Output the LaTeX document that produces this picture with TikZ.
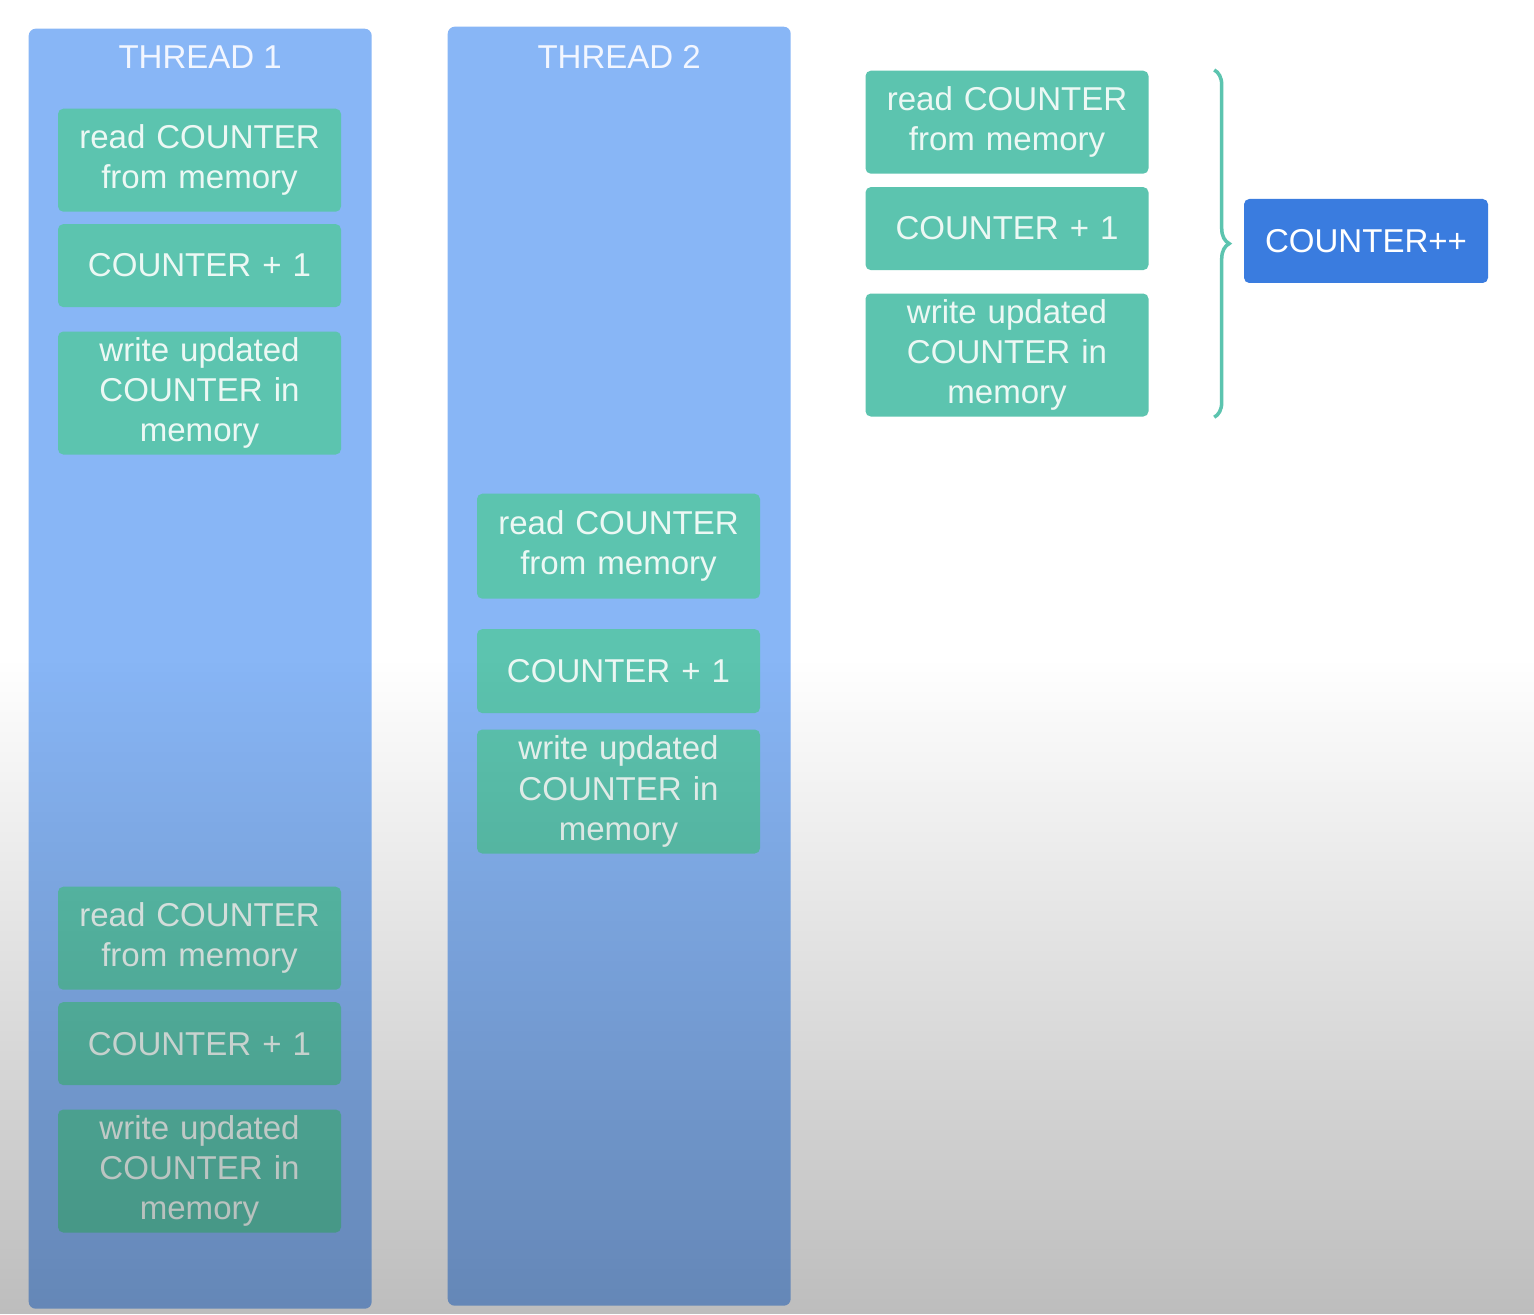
\documentclass[tikz,border=0pt]{standalone}
\usepackage{fontspec}
\setmainfont{Liberation Sans}
\usetikzlibrary{positioning,decorations.pathreplacing,fadings}

\definecolor{threadblue}{RGB}{136,182,246}
\definecolor{opgreen}{RGB}{92,196,175}
\definecolor{counterblue}{RGB}{58,124,223}
\definecolor{optext}{RGB}{236,248,244}
\definecolor{titletext}{RGB}{242,246,255}

\tikzfading[name=dimdown, top color=transparent!100, bottom color=transparent!74, middle color=transparent!100]

\begin{document}
\begin{tikzpicture}[
    node distance=0.11cm,
    thread/.style={rectangle, fill=threadblue, rounded corners=2pt, minimum width=3.43cm, minimum height=12.8cm, inner sep=0pt},
    threadtitle/.style={text=titletext, font=\fontsize{9.4}{11.4}\selectfont, inner sep=0pt},
    op/.style={rectangle, fill=opgreen, text=optext, text width=2.7cm, align=center, minimum width=2.83cm, rounded corners=1.5pt, inner sep=0pt, font=\fontsize{9.4}{11.4}\selectfont},
    readbox/.style={op, minimum height=1.03cm},
    addbox/.style={op, minimum height=0.83cm},
    writebox/.style={op, minimum height=1.23cm},
    counter/.style={rectangle, fill=counterblue, text=white, minimum width=2.44cm, minimum height=0.84cm, rounded corners=1.5pt, inner sep=0pt, font=\fontsize{9.4}{11.4}\selectfont},
    brace/.style={draw=opgreen, line width=1pt, decorate, decoration={brace, amplitude=0.15cm}}
  ]
    \useasboundingbox (0,0) rectangle (15.34,-13.14);
    \fill[white] (0,0) rectangle (15.34,-13.14);

    % the two threads
    \node [thread, anchor=north west] (thread1) at (0.28,-0.28) {};
    \node [thread, anchor=north west, minimum height=12.79cm] (thread2) at (4.47,-0.26) {};
    \node [threadtitle, below=0.17 of thread1.north] (title1) {THREAD 1};
    \node [threadtitle, below=0.19 of thread2.north] (title2) {THREAD 2};

    % thread 1, first increment
    \node [readbox, anchor=north] (read1) at (1.995,-1.08) {read COUNTER\\from memory};
    \node [addbox, below=of read1] (add1) {COUNTER + 1};
    \node [writebox, below=0.23 of add1] (write1) {write updated\\COUNTER in\\memory};

    % thread 1, second increment
    \node [readbox, anchor=north] (read2) at (1.995,-8.86) {read COUNTER\\from memory};
    \node [addbox, below=of read2] (add2) {COUNTER + 1};
    \node [writebox, below=0.23 of add2] (write2) {write updated\\COUNTER in\\memory};

    % thread 2
    \node [readbox, anchor=north, minimum height=1.05cm] (read3) at (6.185,-4.93) {read COUNTER\\from memory};
    \node [addbox, below=0.29 of read3, minimum height=0.84cm] (add3) {COUNTER + 1};
    \node [writebox, below=0.15 of add3, minimum height=1.24cm] (write3) {write updated\\COUNTER in\\memory};

    % what counter++ stands for
    \node [readbox, anchor=north] (read4) at (10.07,-0.70) {read COUNTER\\from memory};
    \node [addbox, below=0.12 of read4] (add4) {COUNTER + 1};
    \node [writebox, below=0.22 of add4] (write4) {write updated\\COUNTER in\\memory};
    \node [counter] (inc) at (13.66,-2.41) {COUNTER++};

    \draw [brace] ([xshift=0.65cm]read4.north east) -- ([xshift=0.65cm]write4.south east);

    % dimming towards the bottom
    \fill [black, path fading=dimdown] (0,0) rectangle (15.34,-13.14);
\end{tikzpicture}
\end{document}
